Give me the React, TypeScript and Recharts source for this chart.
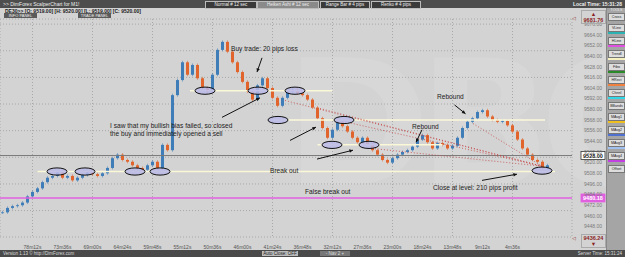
import React from 'react';
import { ComposedChart, Bar, Cell, XAxis, YAxis, CartesianGrid, ReferenceLine, ReferenceDot } from 'recharts';

// closing prices, one per candle (M1 scalper chart, DE30)
const closes = [
  9464, 9469, 9471, 9472, 9475, 9482, 9487, 9491, 9498, 9503,
  9505, 9509, 9503, 9505, 9500, 9503, 9506, 9509, 9507, 9505,
  9508, 9514, 9525, 9529, 9523, 9521, 9517, 9514, 9512, 9517,
  9521, 9514, 9540, 9534, 9596, 9613, 9633, 9619, 9630, 9615,
  9604, 9600, 9619, 9647, 9656, 9645, 9633, 9622, 9611, 9600,
  9591, 9607, 9615, 9604, 9593, 9584, 9593, 9600, 9602, 9598,
  9596, 9591, 9582, 9570, 9559, 9548, 9557, 9566, 9561, 9555,
  9548, 9543, 9548, 9541, 9534, 9529, 9523, 9520, 9525, 9529,
  9532, 9534, 9538, 9546, 9551, 9543, 9536, 9542, 9540, 9536,
  9539, 9548, 9559, 9566, 9570, 9577, 9579, 9572, 9568, 9566,
  9567, 9562, 9555, 9546, 9536, 9529, 9523, 9521, 9514, 9517,
];

const yTicks = [
  9442, 9448, 9454, 9460, 9466, 9472, 9478, 9484, 9490, 9496,
  9502, 9508, 9514, 9520, 9526, 9532, 9538, 9544, 9550, 9556,
  9562, 9568, 9574, 9580, 9586, 9592, 9598, 9604, 9610, 9616,
  9622, 9628, 9634, 9640, 9646, 9652, 9658, 9664, 9670, 9676,
];

const xTicks = [0, 6, 12, 18, 24, 30, 36, 42, 48, 54, 60, 66, 72, 78, 84, 90, 96, 102];
const timeLabels = [
  '82m48s', '78m12s', '73m36s', '69m00s', '64m24s', '59m48s', '55m12s', '50m36s', '46m00s',
  '41m24s', '36m48s', '32m12s', '27m36s', '23m00s', '18m24s', '13m48s', '9m12s', '4m36s',
];

const priceTop = 9681.76;
const priceBottom = 9436.24;
const lastPrice = 9528;
const pinkLevel = 9480.18;

// drawn objects, in candle index / price units
const ellipses = [
  [10.9, 9510], [16.5, 9510], [26.5, 9510], [31.5, 9510],
  [40.5, 9601], [51.1, 9601], [58.5, 9601],
  [55.1, 9568], [68.3, 9568],
  [65.9, 9540], [73.3, 9540],
  [107.9, 9511],
];

const levels = [
  [7, 110.5, 9510],
  [37.5, 66, 9601],
  [54, 108.5, 9568],
  [63, 88, 9540],
];

const trendLines = [
  [56.5, 9590, 107.9, 9516],
  [63.5, 9581, 107.9, 9516],
  [68.5, 9566, 107.9, 9516],
  [73.9, 9536, 107.9, 9516],
  [94.1, 9564, 107.9, 9516],
];

const arrows = [
  [51.9, 9638, 50.9, 9622],
  [43.9, 9571, 51.5, 9593],
  [57.5, 9545, 62.7, 9560],
  [62.9, 9524, 70.1, 9534],
  [90.4, 9585, 92.6, 9575],
  [83.9, 9557, 82.7, 9543],
  [95.9, 9500, 102.9, 9507],
];

const notes: [number, number, string][] = [
  [45.7, 9648, 'Buy trade: 20 pips loss'],
  [21.5, 9562, 'I saw that my bullish bias failed, so closed'],
  [21.5, 9553, 'the buy and immediately opened a sell'],
  [53.5, 9510.6, 'Break out'],
  [60.5, 9487, 'False break out'],
  [86.9, 9594, 'Rebound'],
  [81.9, 9561, 'Rebound'],
  [86.1, 9491.5, 'Close at level: 210 pips profit'],
];

const tools = [
  ['Cross', ''], ['VLine', '#2bb3b3'], ['HLine', '#e050e0'], ['Trendl', '#f4f0c0'],
  ['Fibo', '#2a8a2a'], ['HRect', '#f08040'], ['Chnnl', '#30d8e8'], ['BBands', ''],
  ['MAvg1', '#f0c020'], ['MAvg2', '#5070d0'], ['MAvg3', '#a0c0f0'], ['MAvg4', '#c040e0'], ['Offset', ''],
];

const candles = closes.map((c, i) => {
  const open = i === 0 ? c : closes[i - 1];
  return { i, body: [Math.min(open, c), Math.max(open, c)], up: c >= open };
});

const FONT = '"Liberation Sans", Arial, sans-serif';

const Candle = (p: any) => {
  const { x, y, width, height, fill } = p;
  const cx = x + width / 2;
  return (
    <g>
      <line x1={cx} x2={cx} y1={y - 1.5} y2={y + Math.max(height, 0) + 1.5} stroke={fill} strokeOpacity={0.7} strokeWidth={0.8} />
      <rect x={x} y={y} width={width} height={Math.max(height, 0.8)} fill={fill} />
    </g>
  );
};

const Arrow = (p: any) => {
  const { x1, y1, x2, y2 } = p;
  const a = Math.atan2(y2 - y1, x2 - x1);
  const s = 4;
  const pts = [
    [x2, y2],
    [x2 - s * Math.cos(a - 0.45), y2 - s * Math.sin(a - 0.45)],
    [x2 - s * Math.cos(a + 0.45), y2 - s * Math.sin(a + 0.45)],
  ];
  return (
    <g>
      <line x1={x1} y1={y1} x2={x2} y2={y2} stroke="#111" strokeWidth={1} />
      <polygon points={pts.map(q => q.join(',')).join(' ')} fill="#111" />
    </g>
  );
};

const PriceBox = ({ viewBox, text, bg, color, border }: any) => {
  if (!viewBox) return null;
  const x = viewBox.x + viewBox.width + 9;
  const y = viewBox.y;
  return (
    <g>
      <rect x={x} y={y - 4} width={24} height={8} fill={bg} stroke={border} strokeWidth={0.8} />
      <text x={x + 12} y={y + 2} textAnchor="middle" fontSize={5.5} fontWeight="bold" fill={color} fontFamily={FONT}>{text}</text>
    </g>
  );
};

export default function App() {
  return (
    <div style={{ position: 'fixed', left: 0, top: 0, width: 625, height: 257, background: '#d3d3d3', overflow: 'hidden', fontFamily: FONT }}>
      <div style={{ position: 'absolute', left: 285, top: 25, fontSize: 175, fontWeight: 'bold', color: 'rgba(255,255,255,0.11)', letterSpacing: -12, lineHeight: '200px', fontFamily: '"DejaVu Sans", sans-serif' }}>DBO</div>
      <ComposedChart width={606} height={250} data={candles} margin={{ top: 19, right: 0, bottom: 0, left: 0 }} style={{ position: 'absolute', left: 0, top: 0 }}>
        <CartesianGrid stroke="#a8a8a8" strokeDasharray="1 2" />
        <XAxis dataKey="i" type="number" domain={[-0.5, 113.9]} ticks={xTicks} height={13} axisLine={false} tickLine={false}
          tickFormatter={(v: number) => timeLabels[xTicks.indexOf(v)] ?? ''}
          tick={{ fontSize: 5, fill: '#555', fontFamily: FONT }} />
        <YAxis orientation="right" domain={[priceBottom, priceTop]} ticks={yTicks} width={34} axisLine={false} tickLine={false}
          tickSize={6} tickMargin={6} tickFormatter={(v: number) => v.toFixed(2)} tick={{ fontSize: 5, fill: '#7a7a7a', fontFamily: FONT }} />
        <ReferenceLine y={lastPrice} stroke="#7a7a7a" strokeWidth={1}
          label={{ content: (p: any) => <PriceBox viewBox={p.viewBox} text={lastPrice.toFixed(2)} bg="#fff" color="#111" border="#333" /> }} />
        <ReferenceLine y={pinkLevel} stroke="#e060e0" strokeWidth={1.5}
          label={{ content: (p: any) => <PriceBox viewBox={p.viewBox} text={pinkLevel.toFixed(2)} bg="#e060e0" color="#fff" border="#e060e0" /> }} />
        {levels.map(([a, b, y], k) => (
          <ReferenceLine key={'l' + k} segment={[{ x: a, y }, { x: b, y }]} stroke="#fbf8d8" strokeWidth={1.5} />
        ))}
        {trendLines.map(([a, ya, b, yb], k) => (
          <ReferenceLine key={'t' + k} segment={[{ x: a, y: ya }, { x: b, y: yb }]} stroke="#c44848" strokeWidth={0.8} strokeDasharray="1 2" />
        ))}
        <Bar dataKey="body" barSize={3} isAnimationActive={false} shape={(p: any) => <Candle {...p} />}>
          {candles.map(c => <Cell key={c.i} fill={c.up ? '#3f7db8' : '#e0642c'} />)}
        </Bar>
        {ellipses.map(([x, y], k) => (
          <ReferenceDot key={'e' + k} x={x} y={y} r={4}
            shape={(p: any) => <ellipse cx={p.cx} cy={p.cy} rx={10} ry={3.6} fill="#b8b8e8" fillOpacity={0.85} stroke="#111" strokeWidth={1} />} />
        ))}
        {arrows.map(([a, ya, b, yb], k) => (
          <ReferenceLine key={'a' + k} segment={[{ x: a, y: ya }, { x: b, y: yb }]} shape={(p: any) => <Arrow {...p} />} />
        ))}
        {notes.map(([x, y, t], k) => (
          <ReferenceDot key={'n' + k} x={x} y={y} r={1}
            shape={(p: any) => <text x={p.cx} y={p.cy + 2.3} fontSize={6.6} fill="#222" fontFamily={FONT}>{t}</text>} />
        ))}
      </ComposedChart>

      {/* header */}
      <div style={{ position: 'absolute', left: 0, top: 0, width: 625, height: 8, background: '#4d4d4d', color: '#eee', fontSize: 5, lineHeight: '8px' }}>
        <span style={{ position: 'absolute', left: 3 }}>&gt;&gt; DimForex ScalperChart for M1!</span>
        {[['Normal # 12 sec', 205, 50, '#3a3a3a'], ['Heiken Ashi # 12 sec', 257, 60, '#8a8a8a'], ['Range Bar # 4 pips', 320, 48, '#3a3a3a'], ['Renko # 4 pips', 371, 48, '#3a3a3a']].map(([t, l, w, bg]) => (
          <span key={t as string} style={{ position: 'absolute', left: l as number, top: 1, width: w as number, height: 6, background: bg as string, border: '0.5px solid #bbb', fontSize: 4.5, lineHeight: '6px', textAlign: 'center' }}>{t}</span>
        ))}
        <span style={{ position: 'absolute', right: 3, fontWeight: 'bold' }}>Local Time: 15:31:28</span>
      </div>
      <div style={{ position: 'absolute', left: 5, top: 8, fontSize: 5, fontWeight: 'bold', color: '#222', lineHeight: '6px' }}>DE30&gt;&gt; [O: 9519.00] [H: 9520.00] [L: 9519.00] [C: 9520.00]</div>
      {[['INFO PANEL', 4], ['TRADE PANEL', 78]].map(([t, l]) => (
        <div key={t as string} style={{ position: 'absolute', left: l as number, top: 13, width: 33, height: 5, background: '#5a5a5a', color: '#eee', fontSize: 4, lineHeight: '5px', textAlign: 'center' }}>{t}</div>
      ))}

      {/* axis extremes */}
      <div style={{ position: 'absolute', left: 581, top: 10, width: 23, height: 12, border: '0.5px solid #aaa', fontSize: 5.5, fontWeight: 'bold', color: '#8b1f1f', textAlign: 'center', lineHeight: '6px' }}>▲<br />{priceTop.toFixed(2)}</div>
      <div style={{ position: 'absolute', left: 581, top: 234, width: 23, height: 12, border: '0.5px solid #aaa', fontSize: 5.5, fontWeight: 'bold', color: '#8b1f1f', textAlign: 'center', lineHeight: '6px' }}>{priceBottom.toFixed(2)}<br />▼</div>
      <div style={{ position: 'absolute', left: 572, top: 15, fontSize: 5, color: '#8b1f1f' }}>◁</div>
      <div style={{ position: 'absolute', left: 572, top: 235, fontSize: 5, color: '#8b1f1f' }}>◁</div>

      {/* tools panel */}
      <div style={{ position: 'absolute', left: 606, top: 8, width: 19, height: 242, background: '#a5a5a5', borderLeft: '1px solid #888' }}>
        <div style={{ fontSize: 3.5, color: '#eee', textAlign: 'center', lineHeight: '5px' }}>TOOLS</div>
        {tools.map(([t, c]) => (
          <div key={t} style={{ margin: '0 1px', marginBottom: c ? 3.5 : 3 }}>
            <div style={{ height: 6, background: '#ddd', border: '0.5px solid #777', fontSize: 3.6, lineHeight: '6px', textAlign: 'center', color: '#222' }}>{t}</div>
            {c && <div style={{ height: 1.5, background: c }} />}
          </div>
        ))}
      </div>

      {/* status bar */}
      <div style={{ position: 'absolute', left: 0, top: 250, width: 625, height: 7, background: '#4a4a4a', color: '#ddd', fontSize: 4.5, lineHeight: '7px' }}>
        <span style={{ position: 'absolute', left: 3 }}>Version 1.13  © http://DimForex.com</span>
        <span style={{ position: 'absolute', left: 262, top: 1, width: 36, height: 5, lineHeight: '5px', background: '#bbb', color: '#222', textAlign: 'center' }}>Auto Close: OFF</span>
        <span style={{ position: 'absolute', left: 320, top: 1, width: 30, height: 5, lineHeight: '5px', background: '#777', textAlign: 'center' }}>- Nav 2 +</span>
        <span style={{ position: 'absolute', right: 3 }}>Server Time: 15:31:24</span>
      </div>
    </div>
  );
}
